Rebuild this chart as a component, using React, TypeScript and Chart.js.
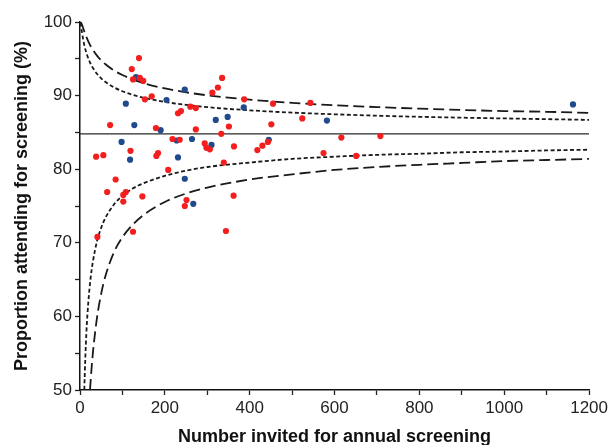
import React, { useEffect, useRef } from 'react';
import { Chart, registerables } from 'chart.js';

Chart.register(...registerables);

// Programmes: number invited (x) and proportion attending (%) (y)
const redInvited = [139, 122, 125, 141, 149, 169, 153, 238, 231, 260, 273, 71, 179, 273, 218, 235, 119, 38, 55, 184, 180, 335, 325, 312, 387, 455, 543, 351, 524, 451, 333, 294, 298, 306, 363, 443, 430, 418, 616, 708, 574, 651, 208, 84, 64, 108, 102, 147, 102, 251, 247, 339, 362, 125, 344, 41];
const redAttending = [95.1, 93.6, 92.2, 92.4, 92.0, 89.9, 89.5, 87.9, 87.6, 88.5, 88.3, 86.0, 85.6, 85.4, 84.1, 84.0, 82.5, 81.7, 81.9, 82.2, 81.8, 92.4, 91.1, 90.4, 89.5, 88.9, 89.0, 85.8, 86.9, 86.1, 84.8, 83.5, 82.9, 82.7, 83.1, 83.7, 83.2, 82.6, 84.3, 84.5, 82.2, 81.8, 79.9, 78.6, 76.9, 76.9, 76.5, 76.3, 75.6, 75.8, 75.0, 80.9, 76.4, 71.5, 71.6, 70.8];

const blueInvited = [132, 247, 204, 108, 128, 190, 98, 228, 264, 118, 231, 386, 320, 348, 310, 445, 582, 247, 267, 1162];
const blueAttending = [92.5, 90.8, 89.4, 88.9, 86.0, 85.3, 83.7, 83.9, 84.1, 81.3, 81.6, 88.4, 86.7, 87.1, 83.3, 84.0, 86.6, 78.7, 75.3, 88.8];

// Funnel control limits
const limitInvited = [1, 2, 3, 5, 8, 10, 15, 20, 25, 30, 40, 50, 60, 80, 100, 125, 150, 200, 250, 300, 400, 500, 600, 700, 800, 900, 1000, 1100, 1200];
const upperInner = [99.92, 99.62, 99.24, 98.46, 97.46, 96.91, 95.8, 94.98, 94.33, 93.8, 92.97, 92.35, 91.86, 91.13, 90.59, 90.09, 89.7, 89.14, 88.74, 88.43, 88.0, 87.69, 87.46, 87.27, 87.12, 87.0, 86.9, 86.8, 86.7];
const lowerInner = [2.3, 10.5, 19.3, 32.7, 44.7, 49.8, 57.7, 62.2, 65.2, 67.3, 70.2, 72.05, 73.4, 75.2, 76.4, 77.4, 78.1, 79.1, 79.8, 80.3, 80.9, 81.4, 81.7, 81.95, 82.1, 82.3, 82.4, 82.55, 82.65];
const upperOuter = [100, 99.95, 99.86, 99.57, 99.07, 98.74, 97.97, 97.31, 96.74, 96.25, 95.43, 94.79, 94.26, 93.42, 92.79, 92.17, 91.69, 90.97, 90.45, 90.04, 89.45, 89.02, 88.69, 88.44, 88.23, 88.05, 87.9, 87.8, 87.65];
const lowerOuter = [0, 1.5, 4.3, 11.7, 22.5, 28.4, 39.2, 46.3, 51.2, 54.8, 59.8, 63.1, 65.5, 68.7, 70.75, 72.5, 73.8, 75.55, 76.7, 77.5, 78.6, 79.3, 79.9, 80.3, 80.6, 80.85, 81.1, 81.25, 81.4];

const meanInvited = [0, 1200];
const meanAttending = [84.8, 84.8];

const xLabelled = [0, 200, 400, 600, 800, 1000, 1200];
const yLabelled = [50, 60, 70, 80, 90, 100];

const pts = (xs: number[], ys: number[]) => xs.map((x, i) => ({ x, y: ys[i] }));

const FONT = '"Liberation Sans", Arial, sans-serif';

export default function App() {
  const ref = useRef<HTMLCanvasElement | null>(null);

  useEffect(() => {
    if (!ref.current) return;
    const lineBase = {
      showLine: true,
      pointRadius: 0,
      pointHoverRadius: 0,
      borderColor: '#1a1a1a',
      backgroundColor: '#1a1a1a',
      fill: false,
      cubicInterpolationMode: 'monotone' as const,
    };
    const chart = new Chart(ref.current, {
      type: 'scatter',
      data: {
        datasets: [
          {
            label: 'Red',
            data: pts(redInvited, redAttending),
            pointRadius: 3.1,
            pointBackgroundColor: '#f41e1e',
            pointBorderColor: '#f41e1e',
            pointBorderWidth: 0,
            order: 1,
          },
          {
            label: 'Blue',
            data: pts(blueInvited, blueAttending),
            pointRadius: 3.1,
            pointBackgroundColor: '#1f4a8c',
            pointBorderColor: '#1f4a8c',
            pointBorderWidth: 0,
            order: 1,
          },
          { ...lineBase, label: 'Mean', data: pts(meanInvited, meanAttending), borderWidth: 1.4, borderColor: '#2a2a2a', order: 2 },
          { ...lineBase, label: 'Upper inner', data: pts(limitInvited, upperInner), borderWidth: 1.8, borderDash: [4, 2.5], order: 2 },
          { ...lineBase, label: 'Lower inner', data: pts(limitInvited, lowerInner), borderWidth: 1.8, borderDash: [4, 2.5], order: 2 },
          { ...lineBase, label: 'Upper outer', data: pts(limitInvited, upperOuter), borderWidth: 1.8, borderDash: [11, 5], order: 2 },
          { ...lineBase, label: 'Lower outer', data: pts(limitInvited, lowerOuter), borderWidth: 1.8, borderDash: [11, 5], order: 2 },
        ],
      },
      options: {
        animation: false,
        responsive: false,
        devicePixelRatio: 1,
        layout: { padding: { left: 0, top: 22, right: 21, bottom: 0 } },
        plugins: { legend: { display: false }, tooltip: { enabled: false } },
        scales: {
          x: {
            type: 'linear',
            min: 0,
            max: 1200,
            afterFit: (s: any) => { s.height = 55; },
            ticks: {
              stepSize: 100,
              autoSkip: false,
              maxRotation: 0,
              padding: 3,
              color: '#222',
              font: { family: FONT, size: 17 },
              callback: (v: any) => (xLabelled.includes(Number(v)) ? String(v) : ''),
            },
            grid: { drawOnChartArea: false, drawTicks: true, tickLength: 5, tickColor: '#222', tickWidth: 1.3 },
            border: { display: true, color: '#111', width: 1.5 },
            title: {
              display: true,
              text: 'Number invited for annual screening',
              color: '#111',
              font: { family: FONT, size: 18, weight: 'bold' },
              padding: { top: 0, bottom: -3 },
            },
          },
          y: {
            type: 'linear',
            min: 50,
            max: 100,
            afterFit: (s: any) => { s.width = 80; },
            ticks: {
              stepSize: 5,
              autoSkip: false,
              padding: 3,
              color: '#222',
              font: { family: FONT, size: 17 },
              callback: (v: any) => (yLabelled.includes(Number(v)) ? String(v) : ''),
            },
            grid: { drawOnChartArea: false, drawTicks: true, tickLength: 5, tickColor: '#222', tickWidth: 1.3 },
            border: { display: true, color: '#111', width: 1.5 },
            title: {
              display: true,
              text: 'Proportion attending for screening (%)',
              color: '#111',
              font: { family: FONT, size: 18, weight: 'bold' },
              padding: { top: 11, bottom: 0 },
            },
          },
        },
      },
    });
    return () => chart.destroy();
  }, []);

  return (
    <div style={{ position: 'absolute', left: 0, top: 0, width: 611, height: 445, background: '#fff' }}>
      <canvas ref={ref} width={611} height={445} style={{ display: 'block', width: 611, height: 445 }} />
    </div>
  );
}
